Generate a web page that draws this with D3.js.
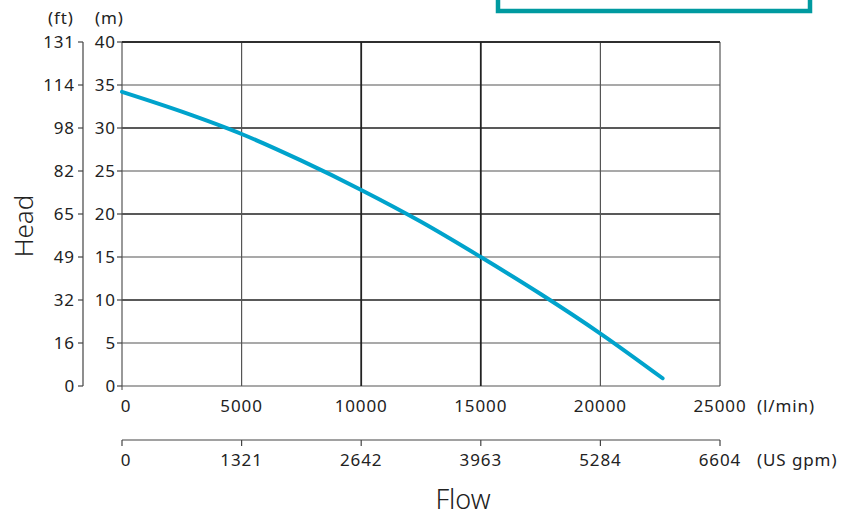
<!DOCTYPE html>
<html><head><meta charset="utf-8">
<script src="https://cdn.jsdelivr.net/npm/d3@7"></script>
<style>
body{margin:0;background:#fff;}
text{font-family:"Noto Sans","Open Sans",sans-serif;fill:#222;}
.t{font-size:17px;letter-spacing:0.9px;}
</style></head>
<body><svg id="c" width="852" height="517"></svg>
<script>
const flowLmin = [0, 2500, 5000, 7500, 10000, 12500, 15000, 17500, 20000, 22600];
const headM    = [34.2, 31.9, 29.3, 26.2, 22.8, 19.1, 15.0, 10.7, 6.1, 0.9];
const headTicksM = [0, 5, 10, 15, 20, 25, 30, 35, 40];
const headTicksFt = ["0", "16", "32", "49", "65", "82", "98", "114", "131"];
const flowTicks = [0, 5000, 10000, 15000, 20000, 25000];
const gpmTicks = ["0", "1321", "2642", "3963", "5284", "6604"];

const svg = d3.select("#c");
const L = 122, R = 720, T = 42, B = 386;
const x = d3.scaleLinear().domain([0, 25000]).range([L, R]);
const y = d3.scaleLinear().domain([0, 40]).range([B, T]);

// teal box at top
svg.append("rect").attr("x", 498).attr("y", -20).attr("width", 312).attr("height", 31)
  .attr("fill", "none").attr("stroke", "#009aa0").attr("stroke-width", 4.5);

// horizontal grid
const g = svg.append("g");
headTicksM.forEach(v => {
  const dark = v % 10 === 0 && v !== 0;
  g.append("line").attr("x1", L).attr("x2", R).attr("y1", y(v)).attr("y2", y(v))
    .attr("stroke", dark ? "#222" : "#555").attr("stroke-width", dark ? 1.6 : 1.2);
});
// vertical grid
flowTicks.forEach(v => {
  const dark = v === 10000 || v === 15000;
  g.append("line").attr("x1", x(v)).attr("x2", x(v)).attr("y1", T).attr("y2", B)
    .attr("stroke", dark ? "#222" : "#555").attr("stroke-width", dark ? 1.8 : 1.2);
});
g.append("line").attr("x1", L).attr("x2", R).attr("y1", T).attr("y2", T).attr("stroke", "#222").attr("stroke-width", 1.6);

// m axis
headTicksM.forEach(v => {
  svg.append("line").attr("x1", L - 5).attr("x2", L).attr("y1", y(v)).attr("y2", y(v)).attr("stroke", "#444").attr("stroke-width", 1.2);
  svg.append("text").attr("class", "t").attr("x", L - 6).attr("y", y(v)).attr("dy", "0.36em").attr("text-anchor", "end").text(v);
});
// ft axis
const fx = 83;
svg.append("line").attr("x1", fx).attr("x2", fx).attr("y1", T).attr("y2", B).attr("stroke", "#444").attr("stroke-width", 1.2);
headTicksM.forEach((v, i) => {
  svg.append("line").attr("x1", fx - 5).attr("x2", fx).attr("y1", y(v)).attr("y2", y(v)).attr("stroke", "#444").attr("stroke-width", 1.2);
  svg.append("text").attr("class", "t").attr("x", fx - 8).attr("y", y(v)).attr("dy", "0.36em").attr("text-anchor", "end").text(headTicksFt[i]);
});
svg.append("text").attr("class", "t").attr("x", 48).attr("y", 24).text("(ft)");
svg.append("text").attr("class", "t").attr("x", 95).attr("y", 24).text("(m)");

// l/min labels
svg.append("line").attr("x1", L).attr("x2", L).attr("y1", B).attr("y2", B + 4).attr("stroke", "#444");
flowTicks.forEach(v => {
  svg.append("text").attr("class", "t").attr("x", x(v) + (v === 0 ? 4 : 0)).attr("y", 412).attr("text-anchor", "middle").text(v);
});
svg.append("text").attr("class", "t").attr("x", 757).attr("y", 412).text("(l/min)");

// gpm axis
const gy = 440;
svg.append("line").attr("x1", L).attr("x2", R).attr("y1", gy).attr("y2", gy).attr("stroke", "#444").attr("stroke-width", 1.2);
flowTicks.forEach((v, i) => {
  svg.append("line").attr("x1", x(v)).attr("x2", x(v)).attr("y1", gy).attr("y2", gy + 6).attr("stroke", "#444").attr("stroke-width", 1.2);
  svg.append("text").attr("class", "t").attr("x", x(v) + (i === 0 ? 4 : 0)).attr("y", 466).attr("text-anchor", "middle").text(gpmTicks[i]);
});
svg.append("text").attr("class", "t").attr("x", 757).attr("y", 466).text("(US gpm)");

// axis titles
svg.append("text").attr("x", 463).attr("y", 509).attr("text-anchor", "middle").attr("font-size", 27)
  .attr("font-weight", 300).attr("fill", "#333").text("Flow");
svg.append("text").attr("transform", "translate(33,226) rotate(-90)").attr("text-anchor", "middle")
  .attr("font-size", 26).attr("font-weight", 300).attr("fill", "#333").text("Head");

// curve
const line = d3.line().x((d, i) => x(flowLmin[i])).y(d => y(d)).curve(d3.curveCatmullRom.alpha(0.5));
svg.append("path").datum(headM).attr("d", line).attr("fill", "none")
  .attr("stroke", "#00a3cc").attr("stroke-width", 4).attr("stroke-linecap", "round");
</script></body></html>
